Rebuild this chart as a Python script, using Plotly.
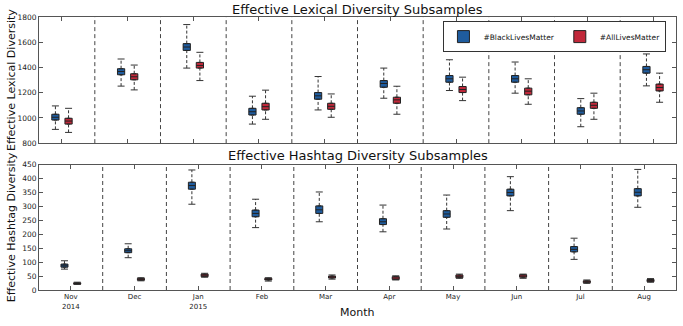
import plotly.graph_objects as go
from plotly.subplots import make_subplots

months = ["Nov<br>2014", "Dec", "Jan<br>2015", "Feb", "Mar", "Apr", "May", "Jun", "Jul", "Aug"]
pos = list(range(1, 11))

# Effective lexical diversity (top panel)
lex_blm_lo = [909, 1252, 1395, 951, 1063, 1156, 1217, 1196, 930, 1254]
lex_blm_q1 = [983, 1342, 1535, 1023, 1148, 1243, 1283, 1283, 1029, 1355]
lex_blm_med = [1005, 1368, 1562, 1049, 1175, 1273, 1310, 1310, 1055, 1382]
lex_blm_q3 = [1029, 1390, 1589, 1076, 1201, 1296, 1336, 1336, 1081, 1408]
lex_blm_hi = [1095, 1467, 1740, 1172, 1328, 1395, 1461, 1443, 1153, 1507]

lex_alm_lo = [885, 1222, 1296, 989, 1005, 1029, 1137, 1108, 989, 1124]
lex_alm_q1 = [951, 1302, 1395, 1063, 1068, 1116, 1201, 1183, 1076, 1214]
lex_alm_med = [975, 1326, 1416, 1089, 1092, 1143, 1225, 1212, 1100, 1241]
lex_alm_q3 = [997, 1350, 1440, 1116, 1116, 1164, 1249, 1236, 1124, 1268]
lex_alm_hi = [1076, 1419, 1520, 1220, 1190, 1251, 1323, 1310, 1196, 1355]

# Effective hashtag diversity (bottom panel)
hash_blm_lo = [75, 116, 308, 224, 245, 209, 219, 285, 110, 297]
hash_blm_q1 = [82, 134, 362, 263, 275, 235, 261, 338, 137, 338]
hash_blm_med = [87, 141, 375, 275, 288, 245, 273, 350, 146, 351]
hash_blm_q3 = [93, 148, 387, 287, 302, 256, 285, 362, 156, 364]
hash_blm_hi = [105, 166, 431, 326, 352, 305, 341, 407, 186, 433]

hash_alm_lo = [20, 33, 46, 32, 39, 36, 42, 42, 24, 28]
hash_alm_q1 = [21, 35, 48, 36, 43, 38, 44, 46, 26, 30]
hash_alm_med = [23, 38, 53, 38, 47, 43, 49, 50, 30, 35]
hash_alm_q3 = [26, 42, 57, 42, 50, 48, 54, 55, 33, 38]
hash_alm_hi = [28, 44, 60, 44, 54, 51, 57, 57, 36, 41]

BLUE = "#1f5c9e"
RED = "#c1283a"
FONT = "DejaVu Sans"

fig = make_subplots(rows=2, cols=1)


def add_series(row, offset, lo, q1, med, q3, hi, color, name, showlegend):
    xs = [p + offset for p in pos]
    # dashed whiskers
    wx, wy = [], []
    for x, a, b, c, d in zip(xs, lo, q1, q3, hi):
        wx += [x, x, None, x, x, None]
        wy += [a, b, None, c, d, None]
    fig.add_trace(go.Scatter(
        x=wx, y=wy, mode="lines",
        line=dict(color="#333333", width=1, dash="3px,2px"),
        showlegend=False, hoverinfo="skip",
    ), row=row, col=1)
    # caps
    fig.add_trace(go.Scatter(
        x=xs + xs, y=lo + hi, mode="markers",
        marker=dict(symbol="line-ew", size=5, line=dict(color="#333333", width=1)),
        showlegend=False, hoverinfo="skip",
    ), row=row, col=1)
    fig.add_trace(go.Box(
        x=xs, q1=q1, median=med, q3=q3, lowerfence=q1, upperfence=q3,
        width=0.11, fillcolor=color, name=name, legendgroup=name,
        line=dict(color="#222222", width=1),
        showlegend=showlegend,
    ), row=row, col=1)


add_series(1, -0.1, lex_blm_lo, lex_blm_q1, lex_blm_med, lex_blm_q3, lex_blm_hi, BLUE, "#BlackLivesMatter", True)
add_series(1, 0.1, lex_alm_lo, lex_alm_q1, lex_alm_med, lex_alm_q3, lex_alm_hi, RED, "#AllLivesMatter", True)
add_series(2, -0.1, hash_blm_lo, hash_blm_q1, hash_blm_med, hash_blm_q3, hash_blm_hi, BLUE, "#BlackLivesMatter", False)
add_series(2, 0.1, hash_alm_lo, hash_alm_q1, hash_alm_med, hash_alm_q3, hash_alm_hi, RED, "#AllLivesMatter", False)

# month dividers
for xref, yref in [("x", "y domain"), ("x2", "y2 domain")]:
    for p in pos[:-1]:
        fig.add_shape(type="line", xref=xref, yref=yref,
                      x0=p + 0.5, x1=p + 0.5, y0=0, y1=1,
                      line=dict(color="#444444", width=1, dash="4px,3px"))

axis_style = dict(showline=True, linecolor="#555555", linewidth=1, mirror="ticks",
                  ticks="inside", ticklen=4, tickcolor="#555555", showgrid=False,
                  zeroline=False, tickfont=dict(family=FONT, size=7.5, color="#222222"))

fig.update_xaxes(axis_style)
fig.update_yaxes(axis_style)
fig.update_xaxes(range=[0.65, 10.35], tickvals=pos, showticklabels=False, domain=[0, 1], row=1, col=1)
fig.update_xaxes(range=[0.5, 10.5], tickvals=pos, ticktext=months, domain=[0, 1],
                 tickfont=dict(family=FONT, size=7, color="#222222"), row=2, col=1)
fig.update_yaxes(range=[800, 1800], dtick=200, domain=[0.538, 1], row=1, col=1)
fig.update_yaxes(range=[0, 450], dtick=50, domain=[0, 0.459], row=2, col=1)

texts = [
    ("Effective Lexical Diversity Subsamples", 0.5, 1.029, 0, 13),
    ("Effective Hashtag Diversity Subsamples", 0.5, 0.4945, 0, 13),
    ("Month", 0.5, -0.081, 0, 11),
    ("Effective Lexical Diversity", -0.044, 0.769, -90, 11),
    ("Effective Hashtag Diversity", -0.044, 0.2295, -90, 11),
]
for text, x, y, angle, size in texts:
    fig.add_annotation(text=text, xref="paper", yref="paper", x=x, y=y,
                       textangle=angle, showarrow=False, xanchor="center", yanchor="middle",
                       font=dict(family=FONT, size=size, color="#111111"))

fig.update_layout(
    width=683, height=326,
    margin=dict(l=39, r=7, t=17, b=36),
    paper_bgcolor="white", plot_bgcolor="white",
    boxmode="overlay",
    legend=dict(orientation="h", x=0.985, xanchor="right", y=0.985, yanchor="top",
                bordercolor="#333333", borderwidth=1, bgcolor="white",
                font=dict(family=FONT, size=7.5, color="#111111"), itemwidth=30,
                tracegroupgap=0),
    font=dict(family=FONT),
)

fig.write_html("out.html", config={"displayModeBar": False},
               post_script="document.body.style.margin='0px';")
